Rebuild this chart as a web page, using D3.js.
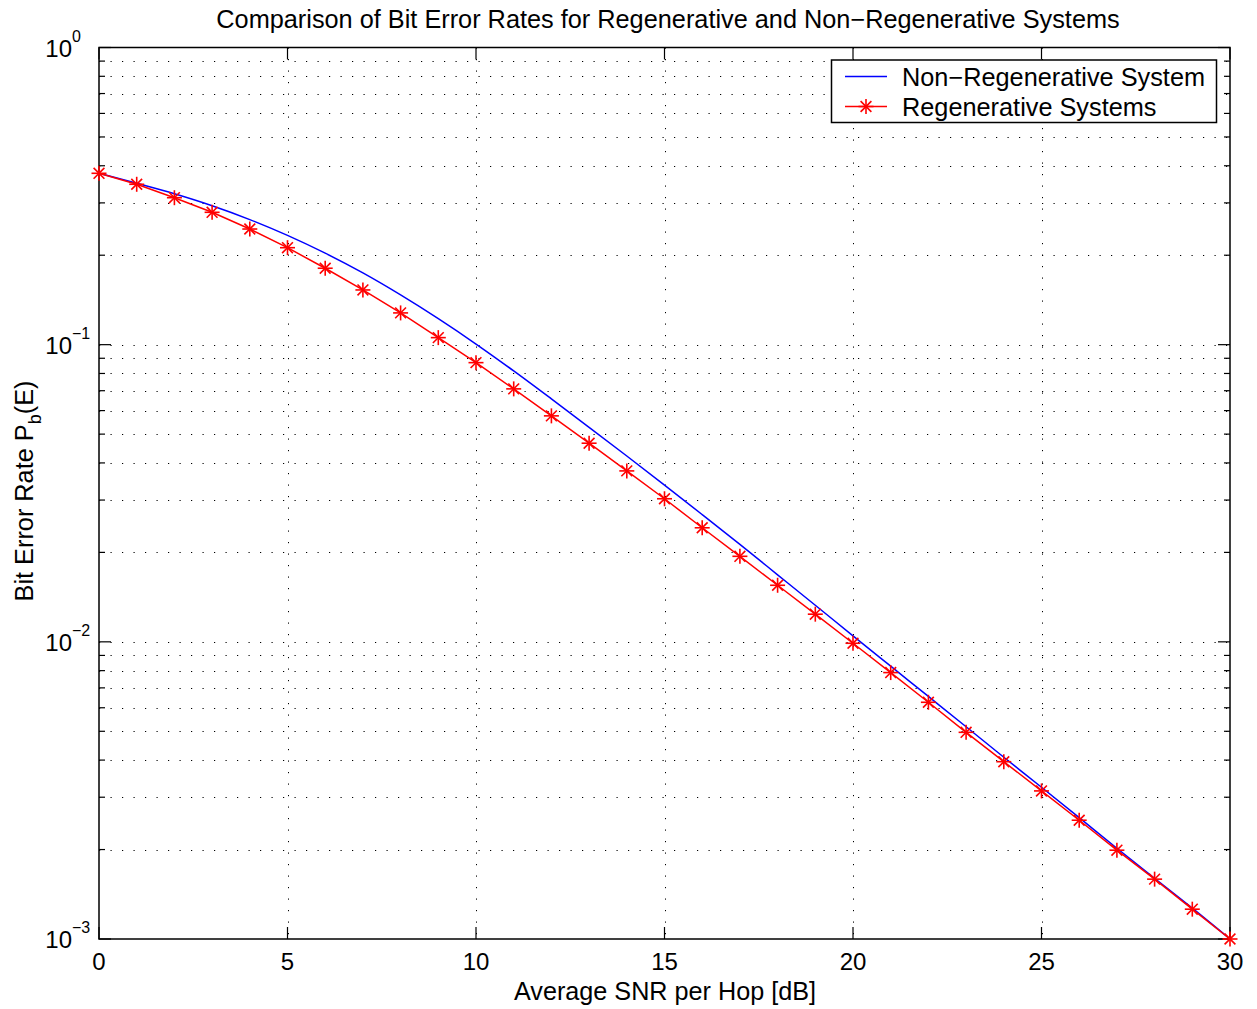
<!DOCTYPE html>
<html><head><meta charset="utf-8">
<script src="https://cdn.jsdelivr.net/npm/d3@7"></script>
<style>body{margin:0;background:#fff;} svg{display:block;} text{font-family:"Liberation Sans",Arial,Helvetica,sans-serif;fill:#000;}</style>
</head><body>
<svg id="c" width="1257" height="1009"></svg>
<script>
const snr = d3.range(0, 31);
const nonRegen = [0.3773,0.3491,0.3219,0.2934,0.2636,0.2332,0.2032,0.1743,0.1470,0.1223,0.1005,0.0816,0.0657,0.0527,0.0422,0.0337,0.0268,0.02127,0.01681,0.01328,0.01047,0.00828,0.00655,0.00518,0.00409,0.00324,0.00256,0.00202,0.00160,0.00127,0.00100];
const regen = [0.3773,0.3465,0.3123,0.2789,0.2450,0.2120,0.1808,0.1528,0.1279,0.1056,0.0870,0.0710,0.0576,0.0466,0.0376,0.0303,0.0242,0.0194,0.0155,0.01239,0.00989,0.00788,0.00626,0.00496,0.00395,0.00315,0.00251,0.00199,0.00159,0.00126,0.00100];
const xTicks = [0,5,10,15,20,25,30];
const yTicks = [1e-3,1e-2,1e-1,1];
const yExps = ["−3","−2","−1","0"];
const seriesNames = ["Non−Regenerative System","Regenerative Systems"];
const titleText = "Comparison of Bit Error Rates for Regenerative and Non−Regenerative Systems";
const xLabel = "Average SNR per Hop [dB]";

const L=99, R=1230, T=47.5, B=939;
const svg = d3.select("#c");
const x = d3.scaleLinear().domain([0,30]).range([L,R]);
const y = d3.scaleLog().domain([1e-3,1]).range([B,T]);

const minor = [];
for (let k=-3;k<0;k++) for (let m=2;m<=9;m++) minor.push(m*Math.pow(10,k));

const grid = svg.append("g").attr("stroke","#000").attr("stroke-width",1).attr("stroke-dasharray","1.2,10.3");
minor.concat([1e-2,1e-1]).forEach(v=>{
  grid.append("line").attr("x1",L).attr("x2",R).attr("y1",Math.round(y(v))+0.5).attr("y2",Math.round(y(v))+0.5);
});
xTicks.slice(1,-1).forEach(v=>{
  grid.append("line").attr("x1",Math.round(x(v))+0.5).attr("x2",Math.round(x(v))+0.5).attr("y1",T).attr("y2",B);
});

svg.append("rect").attr("x",L).attr("y",T).attr("width",R-L).attr("height",B-T).attr("fill","none").attr("stroke","#000").attr("stroke-width",1.5);

const tk = svg.append("g").attr("stroke","#000").attr("stroke-width",1.2);
yTicks.forEach(v=>{
  const yy=y(v);
  tk.append("line").attr("x1",L).attr("x2",L+12).attr("y1",yy).attr("y2",yy);
  tk.append("line").attr("x1",R).attr("x2",R-12).attr("y1",yy).attr("y2",yy);
});
minor.forEach(v=>{
  const yy=y(v);
  tk.append("line").attr("x1",L).attr("x2",L+6).attr("y1",yy).attr("y2",yy);
  tk.append("line").attr("x1",R).attr("x2",R-6).attr("y1",yy).attr("y2",yy);
});
xTicks.forEach(v=>{
  const xx=x(v);
  tk.append("line").attr("x1",xx).attr("x2",xx).attr("y1",B).attr("y2",B-12);
  tk.append("line").attr("x1",xx).attr("x2",xx).attr("y1",T).attr("y2",T+12);
});

xTicks.forEach(v=>{
  svg.append("text").attr("x",x(v)).attr("y",970).attr("text-anchor","middle").attr("font-size",24).text(v);
});
yTicks.forEach((v,i)=>{
  svg.append("text").attr("x",72).attr("y",y(v)+9).attr("text-anchor","end").attr("font-size",24).text("10");
  svg.append("text").attr("x",72).attr("y",y(v)-6).attr("font-size",16).text(yExps[i]);
});

const lineBlue = d3.line().curve(d3.curveMonotoneX).x((d,i)=>x(snr[i])).y(d=>y(d));
const lineRed = d3.line().x((d,i)=>x(snr[i])).y(d=>y(d));
svg.append("path").datum(nonRegen).attr("d",lineBlue).attr("fill","none").attr("stroke","#0000ff").attr("stroke-width",1.5);
svg.append("path").datum(regen).attr("d",lineRed).attr("fill","none").attr("stroke","#ff0000").attr("stroke-width",1.5);

function star(g, cx, cy, r){
  const s=g.append("g").attr("stroke","#ff0000").attr("stroke-width",1.6);
  s.append("line").attr("x1",cx-r).attr("x2",cx+r).attr("y1",cy).attr("y2",cy);
  s.append("line").attr("x1",cx).attr("x2",cx).attr("y1",cy-r).attr("y2",cy+r);
  const d=r*0.72;
  s.append("line").attr("x1",cx-d).attr("x2",cx+d).attr("y1",cy-d).attr("y2",cy+d);
  s.append("line").attr("x1",cx-d).attr("x2",cx+d).attr("y1",cy+d).attr("y2",cy-d);
}
const mk = svg.append("g");
regen.forEach((v,i)=>star(mk, x(snr[i]), y(v), 7.5));

svg.append("text").attr("x",668).attr("y",28).attr("text-anchor","middle").attr("font-size",25.3).text(titleText);
svg.append("text").attr("x",665).attr("y",1000).attr("text-anchor","middle").attr("font-size",25.2).text(xLabel);
const yl = svg.append("text").attr("transform","translate(33,491) rotate(-90)").attr("text-anchor","middle").attr("font-size",25.3);
yl.append("tspan").text("Bit Error Rate P");
yl.append("tspan").attr("font-size",18).attr("dy",8).text("b");
yl.append("tspan").attr("dy",-8).text("(E)");

const lg = svg.append("g");
lg.append("rect").attr("x",831.5).attr("y",60).attr("width",385).attr("height",62.5).attr("fill","#fff").attr("stroke","#000").attr("stroke-width",1.5);
lg.append("line").attr("x1",845).attr("x2",887).attr("y1",76.5).attr("y2",76.5).attr("stroke","#0000ff").attr("stroke-width",1.5);
lg.append("line").attr("x1",845).attr("x2",887).attr("y1",106.5).attr("y2",106.5).attr("stroke","#ff0000").attr("stroke-width",1.5);
star(lg, 866, 106.5, 7.5);
lg.append("text").attr("x",902).attr("y",85.5).attr("font-size",25.3).text(seriesNames[0]);
lg.append("text").attr("x",902).attr("y",115.5).attr("font-size",25.3).text(seriesNames[1]);
</script>
</body></html>
